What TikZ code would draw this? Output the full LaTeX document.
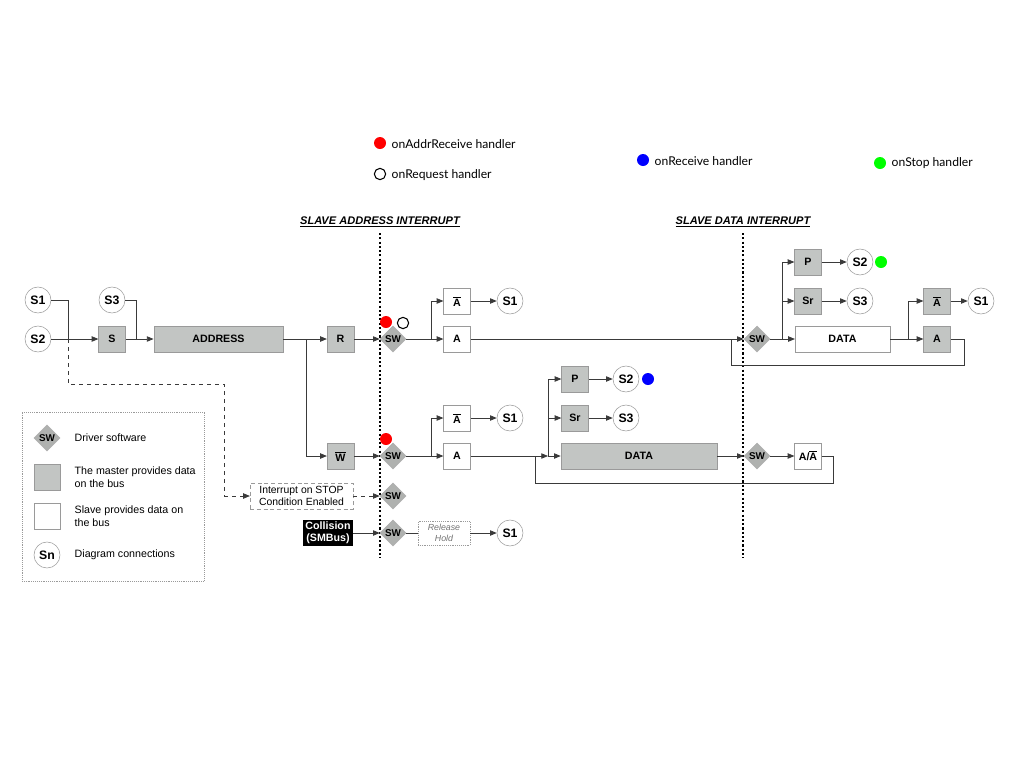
\documentclass[tikz,border=0pt]{standalone}
\usepackage{fontspec}
\setmainfont{Liberation Sans}
\newfontfamily\latofont{Lato}
\usetikzlibrary{shapes.geometric,arrows.meta}
\definecolor{boxgray}{HTML}{C2C5C3}
\definecolor{edgegray}{HTML}{9A9A9A}
\definecolor{linegray}{HTML}{3A3A3A}
\newcommand\ovl[1]{$\overline{\mbox{#1}}$}
\begin{document}
\begin{tikzpicture}[x=0.75pt,y=-0.75pt,
  font=\bfseries\fontsize{8}{9}\selectfont,
  gbox/.style={rectangle,draw=edgegray,fill=boxgray,minimum width=20pt,minimum height=19.5pt,inner sep=0pt},
  wbox/.style={rectangle,draw=edgegray,fill=white,minimum width=20pt,minimum height=19.5pt,inner sep=0pt},
  conn/.style={circle,draw=edgegray,fill=white,minimum size=19.5pt,inner sep=0pt,font=\bfseries\fontsize{9.2}{10}\selectfont},
  swd/.style={diamond,draw=edgegray!80,fill=boxgray!90!black,minimum width=19.5pt,minimum height=19.5pt,inner sep=0pt,font=\bfseries\fontsize{7.4}{8}\selectfont},
  ln/.style={draw=linegray,line width=0.6pt},
  arr/.style={ln,-{Triangle[length=5pt,width=4pt]}},
  vsep/.style={draw=black,line width=1.6pt,dash pattern=on 1.6pt off 1.6pt},
  dot/.style={circle,minimum size=9pt,inner sep=0pt},
  hdl/.style={anchor=west,font=\latofont\fontsize{9.1}{10}\selectfont},
  legt/.style={anchor=west,align=left,font=\fontsize{8}{9.7}\selectfont},
  head/.style={font=\bfseries\itshape\fontsize{8.3}{9}\selectfont}
]
\useasboundingbox (0,0) rectangle (1024,768);

% handler legend
\node[dot,fill=red] (hr) at (380,143) {};
\node[hdl] (hrt) at (387,144) {onAddrReceive handler};
\node[dot,draw=black,line width=0.8pt,minimum size=8.5pt] (ho) at (380,174) {};
\node[hdl] (hot) at (387,175) {onRequest handler};
\node[dot,fill=blue] (hb) at (643,160) {};
\node[hdl] (hbt) at (650,161) {onReceive handler};
\node[dot,fill=green] (hg) at (880,163) {};
\node[hdl] (hgt) at (887,163) {onStop handler};

% headings and separators
\node[head] (h1) at (380,222) {\underline{SLAVE ADDRESS INTERRUPT}};
\node[head] (h2) at (743,222) {\underline{SLAVE DATA INTERRUPT}};
\coordinate (v1t) at (380,233); \coordinate (v1b) at (380,558);
\coordinate (v2t) at (743,233); \coordinate (v2b) at (743,558);
\draw[vsep] (v1t) -- (v1b);
\draw[vsep] (v2t) -- (v2b);

% row 1
\node[conn] (aS1) at (38,300) {S1};
\node[conn] (aS2) at (38,339) {S2};
\node[conn] (aS3) at (112,300) {S3};
\node[gbox] (bS) at (112,339) {S};
\node[gbox,minimum width=97pt] (bAddr) at (218.5,339) {ADDRESS};
\node[gbox] (bR) at (340.5,339) {R};
\node[swd] (d1) at (393,339) {SW};
\node[wbox] (bAn1) at (457,301) {\ovl{A}};
\node[wbox] (bA1) at (457,339) {A};
\node[conn] (cS1a) at (510,301) {S1};

% right part row 1
\node[swd] (d4) at (757,339) {SW};
\node[gbox] (bP2) at (808,262) {P};
\node[conn] (cS2c) at (860,262) {S2};
\node[gbox] (bSr2) at (808,301) {Sr};
\node[conn] (cS3c) at (860,301) {S3};
\node[wbox,minimum width=71pt] (bData2) at (842.5,339) {DATA};
\node[gbox] (bAn3) at (937,301) {\ovl{A}};
\node[gbox] (bA3) at (937,339) {A};
\node[conn] (cS1d) at (981,301) {S1};

% row 2
\node[gbox] (bW) at (340.5,456) {\ovl{W}};
\node[swd] (d2) at (393,456) {SW};
\node[wbox] (bAn2) at (457,418) {\ovl{A}};
\node[wbox] (bA2) at (457,456) {A};
\node[conn] (cS1b) at (510,418) {S1};
\node[gbox] (bP1) at (575,379) {P};
\node[conn] (cS2b) at (626,379) {S2};
\node[gbox] (bSr1) at (575,418) {Sr};
\node[conn] (cS3b) at (626,418) {S3};
\node[gbox,minimum width=117pt] (bData1) at (639,456) {DATA};
\node[swd] (d3) at (757,456) {SW};
\node[wbox] (bAA) at (808,456) {A/\ovl{A}};

% row 3
\node[rectangle,draw=edgegray,densely dashed,fill=white,minimum width=77pt,minimum height=19.5pt,inner sep=0pt,align=center,font=\fontsize{7.8}{9}\selectfont] (bInt) at (301.5,496) {Interrupt on STOP\\Condition Enabled};
\node[swd] (d5) at (393,496) {SW};
\node[rectangle,fill=black,text=white,minimum width=37.5pt,minimum height=20pt,inner sep=0pt,align=center,font=\bfseries\fontsize{8}{9}\selectfont] (bCol) at (328,533) {Collision\\(SMBus)};
\node[swd] (d6) at (393,533) {SW};
\node[rectangle,draw=edgegray,densely dotted,fill=white,minimum width=39pt,minimum height=18pt,inner sep=0pt,align=center,text=black!55,font=\itshape\fontsize{6.6}{8}\selectfont] (bRel) at (444,533) {Release\\Hold};
\node[conn] (cS1e) at (510,533) {S1};

% handler dots on diagram
\node[dot,fill=red] (r1) at (386,322) {};
\node[dot,draw=black,line width=0.8pt,minimum size=8.5pt] (o1) at (403,323) {};
\node[dot,fill=red] (r2) at (386,439) {};
\node[dot,fill=blue] (bl1) at (648,379) {};
\node[dot,fill=green] (gr1) at (881,262) {};

% junction coordinates
\coordinate (j1) at (68,339);
\coordinate (j2) at (136,339);
\coordinate (j3) at (306,339);
\coordinate (j4) at (431,339);
\coordinate (j5) at (782,339);
\coordinate (j6) at (908,339);
\coordinate (j7) at (431,456);
\coordinate (j8) at (548,456);
\coordinate (j9) at (731,339);
\coordinate (j10) at (535,456);

% connectors row 1
\draw[ln] (aS1.east) -| (j1);
\draw[ln,dashed] (j1) -- (68,384) -- (224,384) -- (224,496);
\draw[arr,dashed] (224,496) -- (bInt.west);
\draw[arr] (aS2.east) -- (bS.west);
\draw[ln] (aS3.east) -| (j2);
\draw[arr] (bS.east) -- (bAddr.west);
\draw[arr] (bAddr.east) -- (bR.west);
\draw[arr] (j3) |- (bW.west);
\draw[arr] (bR.east) -- (d1.west);
\draw[arr] (d1.east) -- (bA1.west);
\draw[arr] (j4) |- (bAn1.west);
\draw[arr] (bAn1.east) -- (cS1a.west);
\draw[arr] (bA1.east) -- (d4.west);
\draw[ln] (bA3.east) -- (964,339) -- (964,365) -- (731,365) -- (j9);
\draw[arr] (d4.east) -- (bData2.west);
\draw[arr] (j5) |- (bP2.west);
\draw[arr] (j5) |- (bSr2.west);
\draw[arr] (bP2.east) -- (cS2c.west);
\draw[arr] (bSr2.east) -- (cS3c.west);
\draw[arr] (bData2.east) -- (bA3.west);
\draw[arr] (j6) |- (bAn3.west);
\draw[arr] (bAn3.east) -- (cS1d.west);

% connectors row 2
\draw[arr] (bW.east) -- (d2.west);
\draw[arr] (d2.east) -- (bA2.west);
\draw[arr] (j7) |- (bAn2.west);
\draw[arr] (bAn2.east) -- (cS1b.west);
\draw[arr] (bA2.east) -- (j8);
\draw[arr] (j8) -- (bData1.west);
\draw[arr] (j8) |- (bP1.west);
\draw[arr] (j8) |- (bSr1.west);
\draw[arr] (bP1.east) -- (cS2b.west);
\draw[arr] (bSr1.east) -- (cS3b.west);
\draw[arr] (bData1.east) -- (d3.west);
\draw[arr] (d3.east) -- (bAA.west);
\draw[ln] (bAA.east) -- (833,456) -- (833,483) -- (535,483) -- (j10);

% connectors row 3
\draw[arr,dashed] (bInt.east) -- (d5.west);
\draw[arr] (bCol.east) -- (d6.west);
\draw[ln] (d6.east) -- (bRel.west);
\draw[arr] (bRel.east) -- (cS1e.west);

% legend
\node[rectangle,draw=edgegray,densely dotted,minimum width=136.5pt,minimum height=126.75pt,inner sep=0pt] (leg) at (113,496.5) {};
\node[swd] (lsw) at (47,438) {SW};
\node[legt] (lt1) at (70,438) {Driver software};
\node[gbox,minimum width=19.5pt] (lg) at (47,477) {};
\node[legt] (lt2) at (70,477) {The master provides data\\on the bus};
\node[wbox,minimum width=19.5pt] (lw) at (47,516) {};
\node[legt] (lt3) at (70,516) {Slave provides data on\\the bus};
\node[conn] (lc) at (47,555) {Sn};
\node[legt] (lt4) at (70,555) {Diagram connections};
\end{tikzpicture}
\end{document}
